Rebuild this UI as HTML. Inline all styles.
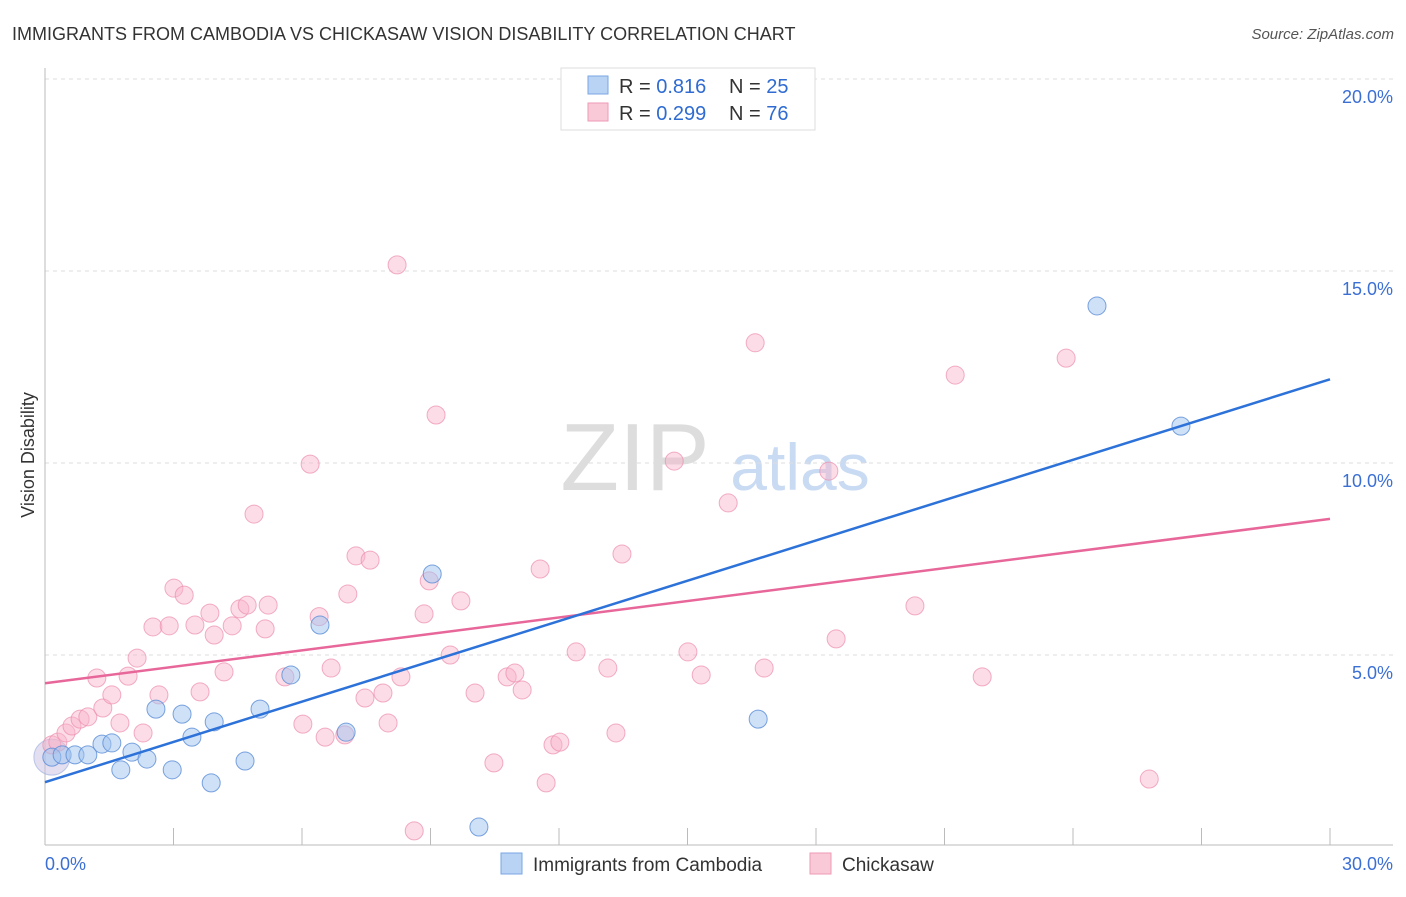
<!DOCTYPE html>
<html><head><meta charset="utf-8"><style>
body{margin:0;background:#fff;font-family:"Liberation Sans",sans-serif}
svg text{font-family:"Liberation Sans",sans-serif}
</style></head><body>
<svg id="chart" width="1406" height="892" xmlns="http://www.w3.org/2000/svg">
<text x="12" y="40" font-size="18" fill="#333">IMMIGRANTS FROM CAMBODIA VS CHICKASAW VISION DISABILITY CORRELATION CHART</text>
<text x="1394" y="39" font-size="15" fill="#555" font-style="italic" text-anchor="end">Source: ZipAtlas.com</text>
<text x="635" y="490" font-size="96" fill="#ddd" font-family="Liberation Serif,serif" text-anchor="middle">ZIP</text>
<text x="800" y="490" font-size="66" fill="#c9daf3" text-anchor="middle">atlas</text>
<g id="grid"></g><g id="axes"></g><g id="marks"></g>
<text transform="translate(34,455) rotate(-90)" font-size="18" fill="#333" text-anchor="middle">Vision Disability</text>
<g>
<rect x="561" y="68" width="254" height="62" fill="#fff" stroke="#ddd"/>
<rect x="588" y="76" width="20" height="18" fill="#b9d3f5" stroke="#7aa6e3"/>
<rect x="588" y="103" width="20" height="18" fill="#f9c9d8" stroke="#ee9ab6"/>
<text x="619" y="93" font-size="20" fill="#333">R = <tspan fill="#2f6bd0">0.816</tspan><tspan x="729">N = </tspan><tspan fill="#2f6bd0">25</tspan></text>
<text x="619" y="120" font-size="20" fill="#333">R = <tspan fill="#2f6bd0">0.299</tspan><tspan x="729">N = </tspan><tspan fill="#2f6bd0">76</tspan></text>
</g>
<g>
<rect x="501" y="853" width="21" height="21" fill="#b9d3f5" stroke="#7aa6e3"/>
<text x="533" y="871" font-size="19" fill="#333">Immigrants from Cambodia</text>
<rect x="810" y="853" width="21" height="21" fill="#f9c9d8" stroke="#ee9ab6"/>
<text x="842" y="871" font-size="19" fill="#333">Chickasaw</text>
</g>
</svg>
<script>
const blueX=[0.16,0.40,0.70,1.00,1.33,1.56,1.77,2.03,2.38,2.59,2.97,3.20,3.43,3.88,3.95,4.67,5.02,5.74,6.42,7.03,9.04,10.13,16.65,24.56,26.52];
const blueY=[2.34,2.40,2.40,2.40,2.68,2.71,2.01,2.47,2.29,3.59,2.01,3.46,2.86,1.67,3.26,2.24,3.59,4.48,5.78,2.99,7.11,0.52,3.33,14.09,10.96];
const pinkX=[0.16,0.30,0.49,0.63,0.82,1.00,1.21,1.35,1.56,1.75,1.94,2.15,2.29,2.52,2.66,2.90,3.01,3.25,3.50,3.62,3.85,3.95,4.18,4.37,4.55,4.72,4.88,5.14,5.21,5.60,6.02,6.19,6.40,6.54,6.68,7.00,7.07,7.26,7.47,7.59,7.89,8.01,8.22,8.31,8.62,8.85,8.97,9.13,9.46,9.71,10.04,10.48,10.79,10.97,11.14,11.56,11.70,11.86,12.02,12.40,13.14,13.33,13.47,14.69,15.01,15.32,15.95,16.58,16.79,18.30,18.47,20.31,21.25,21.88,23.84,25.78];
const pinkY=[2.66,2.73,2.97,3.15,3.33,3.39,4.40,3.62,3.96,3.23,4.45,4.92,2.97,5.73,3.96,5.76,6.74,6.56,5.78,4.04,6.09,5.52,4.56,5.76,6.20,6.30,8.67,5.68,6.30,4.43,3.20,9.97,6.00,2.86,4.66,2.92,6.59,7.58,3.88,7.47,4.01,3.23,15.16,4.43,0.42,6.07,6.93,11.25,5.00,6.41,4.01,2.19,4.43,4.53,4.09,7.24,1.67,2.66,2.73,5.08,4.66,2.97,7.63,10.05,5.08,4.48,8.96,13.13,4.66,9.79,5.42,6.28,12.29,4.43,12.73,1.77];
const yTicks=[5,10,15,20];
const xTickLabels=["0.0%","30.0%"];
const NS="http://www.w3.org/2000/svg";
const X=v=>45+v*(1285/30), Y=v=>847-v*38.4;
function mk(tag,attrs,parent){const e=document.createElementNS(NS,tag);for(const k in attrs)e.setAttribute(k,attrs[k]);parent.appendChild(e);return e;}
const grid=document.getElementById('grid'),axes=document.getElementById('axes'),marks=document.getElementById('marks');
yTicks.forEach(t=>{
 const l=mk('line',{x1:45,x2:1393,y1:Y(t),y2:Y(t),stroke:'#ddd','stroke-dasharray':'4,4'},grid);
 
 
 const tx=mk('text',{x:1393,y:Y(t)+24,'font-size':18,fill:'#3b6fd4','text-anchor':'end'},axes);
 tx.textContent=t.toFixed(1)+'%';
 
 
});
for(let i=0;i<=10;i++){
 const t=mk('line',{x1:X(i*3),x2:X(i*3),y1:828,y2:845,stroke:'#bbb'},axes);
 
 
}
const ya=mk('line',{x1:45,x2:45,y1:68,y2:845,stroke:'#bbb'},axes);


const xa=mk('line',{x1:45,x2:1393,y1:845,y2:845,stroke:'#bbb'},axes);


const xl0=mk('text',{x:45,y:870,'font-size':18,fill:'#3b6fd4'},axes);xl0.textContent=xTickLabels[0];


const xl1=mk('text',{x:1393,y:870,'font-size':18,fill:'#3b6fd4','text-anchor':'end'},axes);xl1.textContent=xTickLabels[1];


const big=mk('circle',{cx:X(0.16),cy:Y(2.34),r:18,fill:'rgba(200,190,225,0.5)',stroke:'rgba(150,170,220,0.6)'},marks);


function pts(xs,ys,fill,stroke,name){xs.forEach((x,i)=>{
 const c=mk('circle',{cx:X(x),cy:Y(ys[i]),r:9,fill:fill,stroke:stroke,'stroke-width':1},marks);
 
 
});}
pts(pinkX,pinkY,'rgba(248,180,202,0.45)','rgba(236,140,172,0.7)','chickasaw-point');
pts(blueX,blueY,'rgba(160,196,240,0.5)','rgba(90,140,215,0.8)','cambodia-point');
function reg(xs,ys){const n=xs.length;let sx=0,sy=0,sxx=0,sxy=0;xs.forEach((x,i)=>{sx+=x;sy+=ys[i];sxx+=x*x;sxy+=x*ys[i];});const b=(n*sxy-sx*sy)/(n*sxx-sx*sx);return [(sy-b*sx)/n,b];}
function trend(xs,ys,col,name){const [a,b]=reg(xs,ys);const l=mk('line',{x1:X(0),y1:Y(a),x2:X(30),y2:Y(a+b*30),stroke:col,'stroke-width':2.5},marks);
 
 }
trend(pinkX,pinkY,'#e8679a','chickasaw-trend-line');
trend(blueX,blueY,'#2d72d9','cambodia-trend-line');
</script>
</body></html>
